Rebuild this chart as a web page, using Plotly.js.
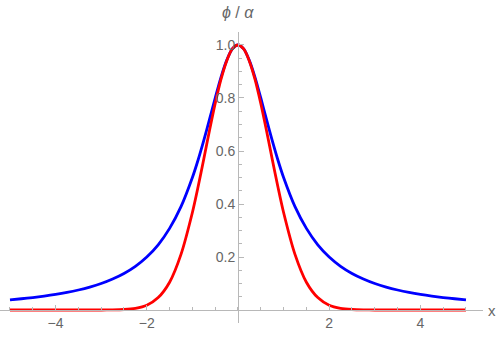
<!DOCTYPE html>
<html>
<head>
<meta charset="utf-8">
<script src="https://cdn.plot.ly/plotly-3.0.1.min.js"></script>
<style>html,body{margin:0;padding:0;background:#fff;}#chart{width:498px;height:339px;}</style>
</head>
<body>
<div id="chart"></div>
<script>
const xs = [-5,-4.75,-4.5,-4.25,-4,-3.75,-3.5,-3.25,-3,-2.75,-2.5,-2.25,-2,-1.75,-1.5,-1.25,-1,-0.875,-0.75,-0.625,-0.5,-0.375,-0.25,-0.125,0,
            0.125,0.25,0.375,0.5,0.625,0.75,0.875,1,1.25,1.5,1.75,2,2.25,2.5,2.75,3,3.25,3.5,3.75,4,4.25,4.5,4.75,5];
const blueVals = [0.0385,0.0425,0.0471,0.0525,0.0588,0.0664,0.0755,0.0865,0.1,0.117,0.138,0.165,0.2,0.246,0.308,0.39,0.5,0.566,0.64,0.719,0.8,0.877,0.941,0.985,1,
                  0.985,0.941,0.877,0.8,0.719,0.64,0.566,0.5,0.39,0.308,0.246,0.2,0.165,0.138,0.117,0.1,0.0865,0.0755,0.0664,0.0588,0.0525,0.0471,0.0425,0.0385];
const redVals = [0,0,0,0,0,0,0,0,0.0001,0.0005,0.0019,0.0063,0.018,0.047,0.105,0.21,0.368,0.465,0.57,0.677,0.779,0.869,0.939,0.985,1,
                 0.985,0.939,0.869,0.779,0.677,0.57,0.465,0.368,0.21,0.105,0.047,0.018,0.0063,0.0019,0.0005,0.0001,0,0,0,0,0,0,0,0];
const xTickVals = [-4,-2,2,4];
const xTickText = ['\u22124','\u22122','2','4'];
const yTickVals = [0.2,0.4,0.6,0.8,1.0];
const yTickText = ['0.2','0.4','0.6','0.8','1.0'];

const xr = [-5.219, 5.373];
const yr = [-0.049, 1.049];
const axisColor = '#b8b8b8';
const labelColor = '#666666';
const fontFam = 'Liberation Sans, Arial, sans-serif';

const traces = [
  {x: xs, y: blueVals, mode: 'lines', line: {color: '#0000ff', width: 2.8, shape: 'spline', smoothing: 0.8}, hoverinfo: 'skip'},
  {x: xs, y: redVals, mode: 'lines', line: {color: '#ff0000', width: 2.8, shape: 'spline', smoothing: 0.8}, hoverinfo: 'skip'}
];

const layout = {
  width: 498, height: 339,
  margin: {l: 0, r: 15, t: 32, b: 16, pad: 0},
  paper_bgcolor: '#fff', plot_bgcolor: '#fff',
  showlegend: false,
  font: {family: fontFam, size: 14, color: labelColor},
  xaxis: {
    range: xr, anchor: 'free', position: (0 - yr[0]) / (yr[1] - yr[0]),
    showgrid: false, zeroline: false, showline: true, linecolor: axisColor, linewidth: 1,
    tickmode: 'array', tickvals: xTickVals, ticktext: xTickText,
    ticks: 'inside', ticklen: 5, tickcolor: axisColor, tickwidth: 1,
    minor: {dtick: 0.5, tick0: 0, ticks: 'inside', ticklen: 3, tickcolor: axisColor, tickwidth: 1, showgrid: false},
    tickfont: {family: fontFam, size: 14, color: labelColor}
  },
  yaxis: {
    range: yr, anchor: 'free', position: (0 - xr[0]) / (xr[1] - xr[0]),
    showgrid: false, zeroline: false, showline: true, linecolor: axisColor, linewidth: 1,
    tickmode: 'array', tickvals: yTickVals, ticktext: yTickText,
    ticks: 'inside', ticklen: 5, tickcolor: axisColor, tickwidth: 1,
    minor: {dtick: 0.05, tick0: 0, ticks: 'inside', ticklen: 3, tickcolor: axisColor, tickwidth: 1, showgrid: false},
    tickfont: {family: fontFam, size: 14, color: labelColor}
  },
  annotations: [
    {xref: 'paper', yref: 'paper', x: 1.0, y: (0 - yr[0]) / (yr[1] - yr[0]), xanchor: 'left', yanchor: 'middle', xshift: 3,
     text: 'x', showarrow: false, font: {family: fontFam, size: 15, color: labelColor}},
    {xref: 'paper', yref: 'paper', x: (0 - xr[0]) / (xr[1] - xr[0]), y: 1, xanchor: 'center', yanchor: 'bottom', yshift: 9,
     text: '<i>\u03d5</i> / <i>\u03b1</i>', showarrow: false, font: {family: fontFam, size: 16, color: labelColor}}
  ]
};

Plotly.newPlot('chart', traces, layout, {displayModeBar: false, staticPlot: true});
</script>
</body>
</html>
